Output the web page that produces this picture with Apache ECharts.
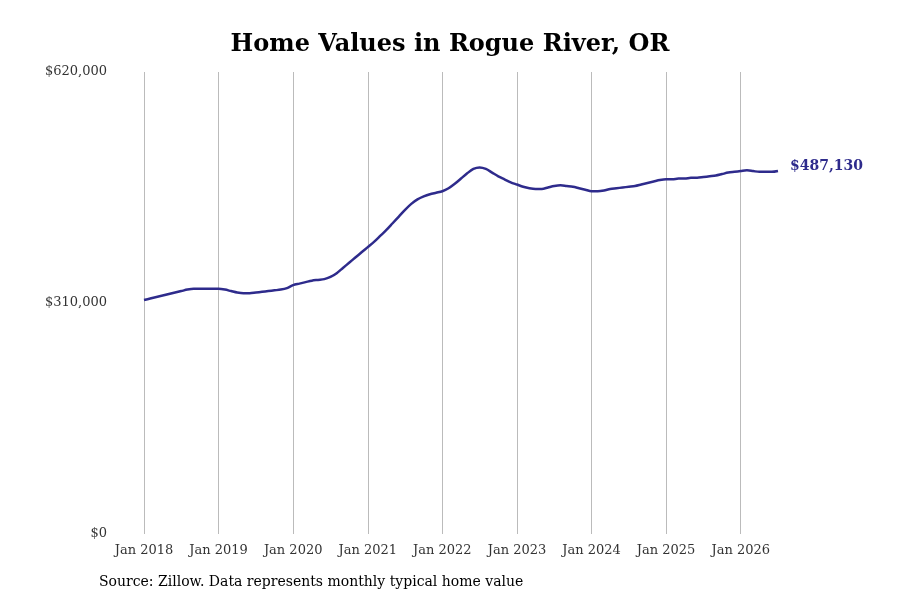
<!DOCTYPE html>
<html><head><meta charset="utf-8">
<script src="https://cdn.jsdelivr.net/npm/echarts@6/dist/echarts.min.js"></script>
<style>html,body{margin:0;padding:0;background:#fff}#c{width:900px;height:600px}</style>
</head><body><div id="c"></div>
<script>
const years = [2018,2019,2020,2021,2022,2023,2024,2025,2026];
const monthNames = ['Jan','Feb','Mar','Apr','May','Jun','Jul','Aug','Sep','Oct','Nov','Dec'];
const values = [
314000,316000,318000,320000,322000,324000,326000,328000,329000,329000,329000,329000,
329000,328000,326000,324000,323000,323000,324000,325000,326000,327000,328000,330000,
334000,336000,338000,340000,341000,342000,345000,350000,357000,364000,371000,378000,
385000,392000,400000,408000,417000,426000,435000,443000,449000,453000,456000,458000,
460000,464000,470000,477000,484000,490000,492000,490000,485000,480000,476000,472000,
469000,466000,464000,463000,463000,465000,467000,468000,467000,466000,464000,462000,
460000,460000,461000,463000,464000,465000,466000,467000,469000,471000,473000,475000,
476000,476000,477000,477000,478000,478000,479000,480000,481000,483000,485000,486000,
487000,488000,487000,486000,486000,486000,487130];
const categories = values.map((v,i)=>monthNames[i%12]+' '+years[Math.floor(i/12)]);
const yTicks = [0,310000,620000];
const fmt = v => '$' + v.toLocaleString('en-US');
const chart = echarts.init(document.getElementById('c'));
chart.setOption({
  animation:false,
  textStyle:{fontFamily:'DejaVu Serif'},
  title:{text:'Home Values in Rogue River, OR',left:'center',top:28,
    textStyle:{fontFamily:'DejaVu Serif',fontSize:24,fontWeight:'bold',color:'#000'}},
  graphic:[{type:'text',left:99,top:575,style:{text:'Source: Zillow. Data represents monthly typical home value',
    font:'14px DejaVu Serif',fill:'#000'}}],
  grid:{left:144,right:122,top:72,bottom:66},
  xAxis:{type:'category',data:categories,boundaryGap:false,
    axisLine:{show:false},axisTick:{show:false},
    axisLabel:{interval:11,color:'#333',fontSize:13,margin:10,fontFamily:'DejaVu Serif'},
    splitLine:{show:true,interval:11,lineStyle:{color:'#bbb',width:1}}},
  yAxis:{type:'value',min:yTicks[0],max:yTicks[2],interval:310000,
    axisLine:{show:false},axisTick:{show:false},splitLine:{show:false},
    axisLabel:{formatter:fmt,color:'#333',fontSize:13,margin:37,fontFamily:'DejaVu Serif'}},
  series:[{type:'line',data:values,showSymbol:false,smooth:0.3,
    lineStyle:{color:'#2e2b8c',width:2.5},
    endLabel:{show:true,formatter:p=>fmt(p.value),color:'#2e2b8c',fontWeight:'bold',fontSize:14,distance:12,offset:[0,-5],fontFamily:'DejaVu Serif'}}]
});
</script></body></html>
